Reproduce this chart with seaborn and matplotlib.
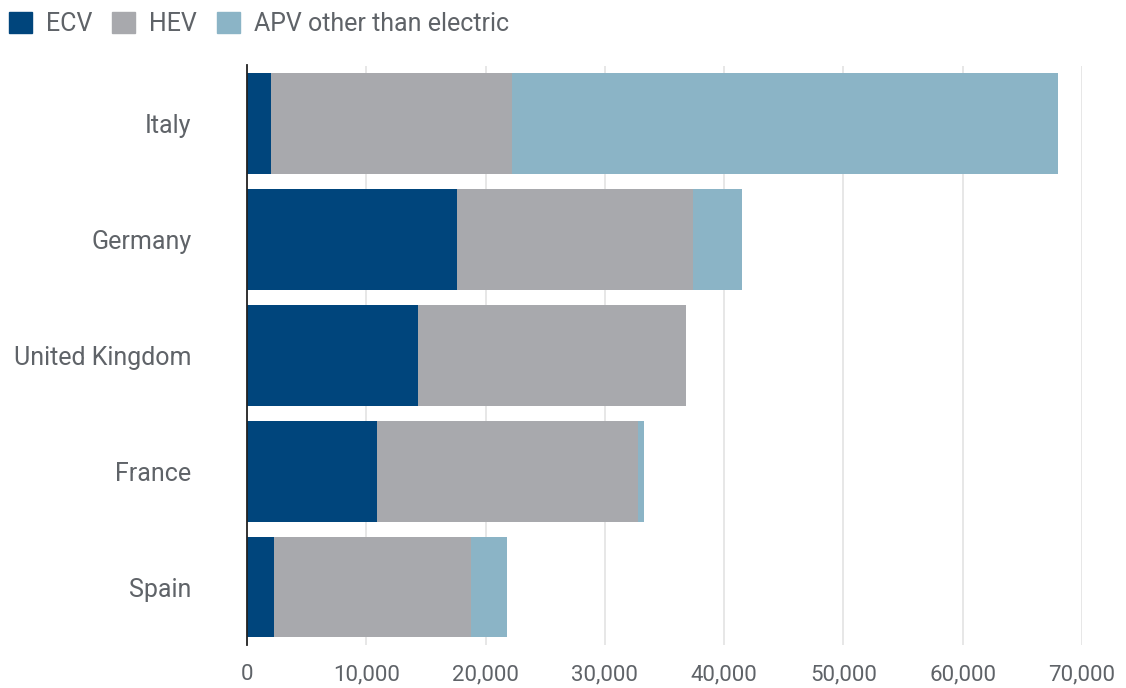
import matplotlib
matplotlib.use("Agg")
import matplotlib.pyplot as plt
import seaborn as sns
import numpy as np
import pandas as pd
from matplotlib.patches import Patch

countries = ["Italy", "Germany", "United Kingdom", "France", "Spain"]
ecv = [2000, 17600, 14300, 10900, 2300]
hev = [20200, 19800, 22500, 21850, 16500]
apv = [45800, 4100, 0, 550, 3000]
series_names = ["ECV", "HEV", "APV other than electric"]
colors = ["#00457C", "#A8A9AD", "#8BB4C6"]
xticks = [0, 10000, 20000, 30000, 40000, 50000, 60000, 70000]

sns.set_theme(style="white")
plt.rcParams["font.family"] = ["Roboto", "DejaVu Sans"]
text_color = "#5F6368"

fig = plt.figure(figsize=(11.26, 6.88), dpi=100)
ax = fig.add_axes([247/1126, 1 - 645/688, (1082 - 247)/1126, (645 - 65.5)/688])

e = np.array(ecv); h = np.array(hev); a = np.array(apv)
layers = [e + h + a, e + h, e]
layer_colors = [colors[2], colors[1], colors[0]]
for vals, col in zip(layers, layer_colors):
    df = pd.DataFrame({"country": countries, "value": vals})
    sns.barplot(data=df, y="country", x="value", order=countries, color=col,
                width=0.87, saturation=1, ax=ax, linewidth=0, orient="h")

ax.set_xlim(0, 70000)
ax.set_ylim(4.5, -0.5)
ax.set_xticks(xticks)
ax.set_xticklabels([f"{v:,}" for v in xticks])
ax.set_xlabel("")
ax.set_ylabel("")
ax.xaxis.grid(True, color="#E3E3E3", linewidth=1.2)
ax.yaxis.grid(False)
ax.set_axisbelow(True)
for s in ["top", "right", "bottom"]:
    ax.spines[s].set_visible(False)
ax.spines["left"].set_color("#222222")
ax.spines["left"].set_linewidth(1.3)
ax.tick_params(axis="y", length=0, pad=40, labelsize=18, labelcolor=text_color)
ax.tick_params(axis="x", length=0, pad=14, labelsize=16, labelcolor=text_color)

handles = [Patch(facecolor=c, edgecolor=c, label=n) for n, c in zip(series_names, colors)]
leg = fig.legend(handles=handles, loc="upper left", bbox_to_anchor=(-0.0075, 1.008), ncol=3,
                 frameon=False, fontsize=18, handlelength=0.92, handleheight=0.92,
                 handletextpad=0.56, columnspacing=0.8, borderaxespad=0.3)
for t in leg.get_texts():
    t.set_color(text_color)

fig.savefig("out.png", dpi=100)
